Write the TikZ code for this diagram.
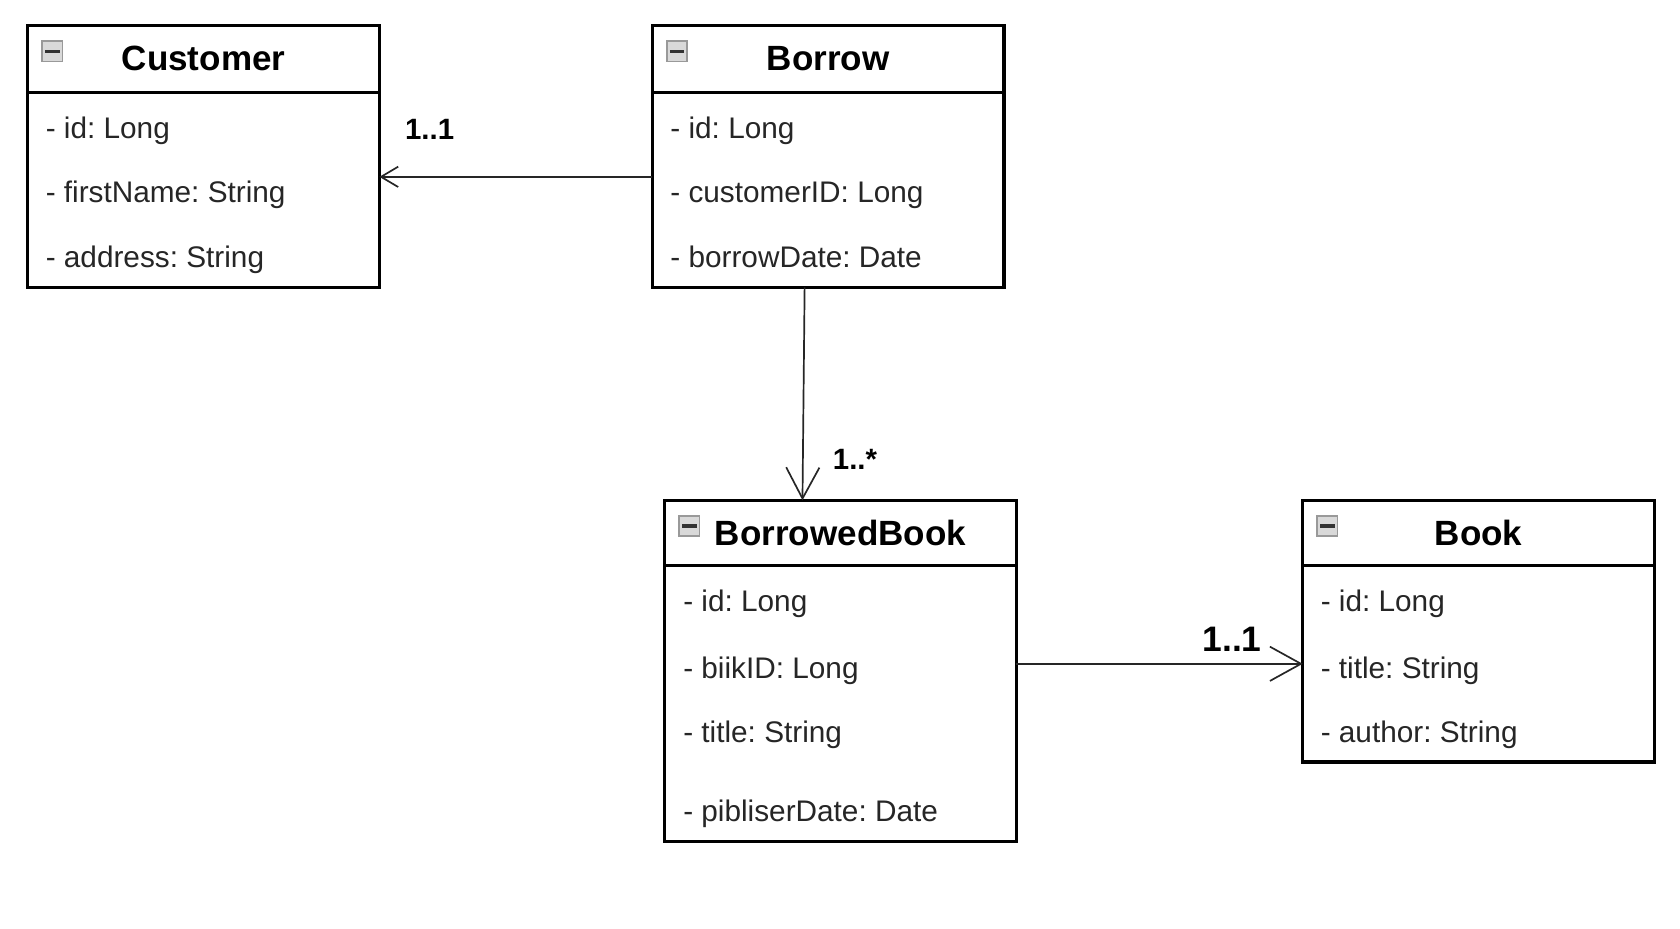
\documentclass[tikz,border=0pt]{standalone}
\usepackage{fontspec}
\setmainfont{Liberation Sans}
\usetikzlibrary{positioning,arrows.meta}
\frenchspacing

\begin{document}
\begin{tikzpicture}[x=0.01cm,y=-0.01cm,
		head/.style={draw,line width=0.85pt,outer sep=0pt,inner sep=0pt,
			minimum width=3.28cm,minimum height=0.62cm,
			font=\fontsize{9.3}{11}\selectfont\bfseries},
		body/.style={draw,line width=0.85pt,outer sep=0pt,inner sep=0pt,minimum width=3.28cm},
		attr/.style={anchor=base west,inner sep=0pt,text=black!85,
			font=\fontsize{7.9}{10}\selectfont},
		icon/.style={draw=gray!80,fill=gray!30,line width=0.4pt,minimum size=0.19cm,inner sep=0pt},
		mult/.style={inner sep=0pt,font=\fontsize{7.8}{9}\selectfont\bfseries},
		assoc/.style={line width=0.45pt,draw=black!85}]
		\useasboundingbox (0,0) rectangle (1568,866.2);

		% classes
		\node[head] (chead) at (190,55) {Customer};
		\node[body,minimum height=1.82cm,below=0pt of chead] (cbody) {};
		\node[head] (bhead) at (773,55) {Borrow};
		\node[body,minimum height=1.82cm,below=0pt of bhead] (bbody) {};
		\node[head,minimum height=0.61cm] (bbhead) at (784.5,497.5) {BorrowedBook};
		\node[body,minimum height=2.57cm,below=0pt of bbhead] (bbbody) {};
		\node[head,minimum height=0.61cm] (bkhead) at (1380,497.5) {Book};
		\node[body,minimum height=1.83cm,below=0pt of bkhead] (bkbody) {};

		% collapse icons
		\node[icon] (cicon) at ([xshift=0.23cm,yshift=-0.24cm]chead.north west) {};
		\node[icon] (bicon) at ([xshift=0.23cm,yshift=-0.24cm]bhead.north west) {};
		\node[icon] (bbicon) at ([xshift=0.23cm,yshift=-0.24cm]bbhead.north west) {};
		\node[icon] (bkicon) at ([xshift=0.23cm,yshift=-0.24cm]bkhead.north west) {};
		\foreach \n in {cicon,bicon,bbicon,bkicon}
			\draw[line width=1pt,black!80] ([xshift=0.035cm]\n.west) -- ([xshift=-0.035cm]\n.east);

		% attributes
		\node[attr] (c1) at (42,129) {- id: Long};
		\node[attr] (c2) at (42,189) {- firstName: String};
		\node[attr] (c3) at (42,250) {- address: String};
		\node[attr] (b1) at (625,129) {- id: Long};
		\node[attr] (b2) at (625,189) {- customerID: Long};
		\node[attr] (b3) at (625,250) {- borrowDate: Date};
		\node[attr] (bb1) at (637,571) {- id: Long};
		\node[attr] (bb2) at (637,633) {- biikID: Long};
		\node[attr] (bb3) at (637,693) {- title: String};
		\node[attr] (bb4) at (637,767) {- pibliserDate: Date};
		\node[attr] (bk1) at (1232,571) {- id: Long};
		\node[attr] (bk2) at (1232,633) {- title: String};
		\node[attr] (bk3) at (1232,693) {- author: String};

		% multiplicities
		\node[mult] (m1) at (401,121) {1..1};
		\node[mult] (m2) at (798,429) {1..*};
		\node[mult,font=\fontsize{9.4}{11}\selectfont\bfseries] (m3) at (1150,597) {1..1};

		% associations
		\draw[assoc,-{Straight Barb[length=0.16cm,width=0.19cm]}]
			([yshift=0.12cm]bbody.west) -- ([yshift=0.12cm]cbody.east);
		\draw[assoc,-{Straight Barb[length=0.29cm,width=0.31cm]}]
			([xshift=-0.22cm]bbody.south) -- ([xshift=-0.355cm]bbhead.north);
		\draw[assoc,-{Straight Barb[length=0.29cm,width=0.32cm]}]
			(bbbody.east |- bkbody.west) -- (bkbody.west);
\end{tikzpicture}
\end{document}
